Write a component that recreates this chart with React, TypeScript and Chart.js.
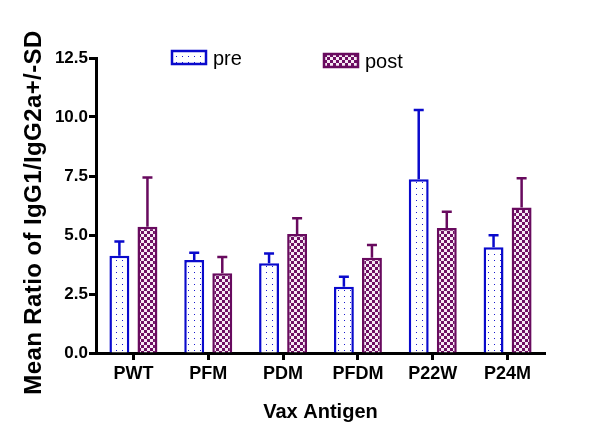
import React, { useEffect, useRef } from "react";
import { Chart, registerables } from "chart.js";

Chart.register(...registerables);

const categories = ["PWT", "PFM", "PDM", "PFDM", "P22W", "P24M"];
const preMean = [4.12, 3.94, 3.8, 2.81, 7.36, 4.48];
const preSD = [0.6, 0.31, 0.42, 0.42, 2.94, 0.51];
const postMean = [5.35, 3.38, 5.04, 4.04, 5.3, 6.16];
const postSD = [2.09, 0.69, 0.67, 0.54, 0.69, 1.24];
const seriesNames = ["pre", "post"];
const yTicks = [0, 2.5, 5, 7.5, 10, 12.5];
const yTitle = "Mean Ratio of IgG1/IgG2a+/-SD";
const xTitle = "Vax Antigen";

const BLUE = "#0a0acc";
const PURPLE = "#680a5e";
const FONT = "'Liberation Sans', Arial, sans-serif";

function makeDots(): CanvasPattern | string {
  const c = document.createElement("canvas");
  c.width = 6;
  c.height = 6;
  const g = c.getContext("2d");
  if (!g) return "#fff";
  g.fillStyle = "#ffffff";
  g.fillRect(0, 0, 6, 6);
  g.fillStyle = "#1a1ad0";
  g.fillRect(2, 2, 1, 1);
  return g.createPattern(c, "repeat") || "#fff";
}

function makeChecker(): CanvasPattern | string {
  const c = document.createElement("canvas");
  c.width = 6;
  c.height = 6;
  const g = c.getContext("2d");
  if (!g) return PURPLE;
  g.fillStyle = "#f6eaf4";
  g.fillRect(0, 0, 6, 6);
  g.fillStyle = "#6e0f63";
  g.fillRect(0, 0, 3, 3);
  g.fillRect(3, 3, 3, 3);
  return g.createPattern(c, "repeat") || PURPLE;
}

export default function App() {
  const ref = useRef<HTMLCanvasElement | null>(null);

  useEffect(() => {
    document.body.style.margin = "0";
    const canvas = ref.current;
    if (!canvas) return;
    const dots = makeDots();
    const checker = makeChecker();
    const sds = [preSD, postSD];
    const colors = [BLUE, PURPLE];

    const errorBars = {
      id: "errorBars",
      afterDatasetsDraw(chart: any) {
        const ctx = chart.ctx;
        const yScale = chart.scales.y;
        chart.data.datasets.forEach((ds: any, di: number) => {
          const meta = chart.getDatasetMeta(di);
          meta.data.forEach((el: any, i: number) => {
            const v = ds.data[i] + sds[di][i];
            const yTop = yScale.getPixelForValue(v);
            ctx.save();
            ctx.strokeStyle = colors[di];
            ctx.lineWidth = 2.5;
            ctx.beginPath();
            ctx.moveTo(el.x, el.y);
            ctx.lineTo(el.x, yTop);
            ctx.moveTo(el.x - 5, yTop);
            ctx.lineTo(el.x + 5, yTop);
            ctx.stroke();
            ctx.restore();
          });
        });
      },
    };

    const customLegend = {
      id: "customLegend",
      afterDraw(chart: any) {
        const ctx = chart.ctx;
        const a = chart.chartArea;
        const items = [
          { x: a.left + 76, y: a.top - 7, fill: dots, stroke: BLUE, text: seriesNames[0] },
          { x: a.left + 228, y: a.top - 4, fill: checker, stroke: PURPLE, text: seriesNames[1] },
        ];
        ctx.save();
        items.forEach((it) => {
          ctx.fillStyle = it.fill as any;
          ctx.fillRect(it.x, it.y, 34, 13);
          ctx.strokeStyle = it.stroke;
          ctx.lineWidth = 2.5;
          ctx.strokeRect(it.x, it.y, 34, 13);
          ctx.fillStyle = "#000";
          ctx.font = `20px ${FONT}`;
          ctx.textBaseline = "middle";
          ctx.textAlign = "left";
          ctx.fillText(it.text, it.x + 41, it.y + 8);
        });
        ctx.restore();
      },
    };

    const yTitlePlugin = {
      id: "yTitlePlugin",
      afterDraw(chart: any) {
        const ctx = chart.ctx;
        const a = chart.chartArea;
        ctx.save();
        ctx.translate(34, (a.top + a.bottom) / 2 + 7);
        ctx.rotate(-Math.PI / 2);
        ctx.fillStyle = "#000";
        ctx.font = `bold 24px ${FONT}`;
        ctx.textAlign = "center";
        ctx.textBaseline = "middle";
        if ("letterSpacing" in ctx) (ctx as any).letterSpacing = "0.4px";
        ctx.fillText(yTitle, 0, 0);
        ctx.restore();
      },
    };

    const chart = new Chart(canvas, {
      type: "bar",
      data: {
        labels: categories,
        datasets: [
          {
            label: seriesNames[0],
            data: preMean,
            backgroundColor: dots as any,
            borderColor: BLUE,
            borderWidth: 2.5,
            borderSkipped: "start",
            categoryPercentage: 0.75,
            barPercentage: 0.71,
          },
          {
            label: seriesNames[1],
            data: postMean,
            backgroundColor: checker as any,
            borderColor: PURPLE,
            borderWidth: 2.5,
            borderSkipped: "start",
            categoryPercentage: 0.75,
            barPercentage: 0.71,
          },
        ],
      },
      options: {
        animation: false,
        responsive: false,
        maintainAspectRatio: false,
        layout: { padding: { top: 58, right: 55, left: 0, bottom: 0 } },
        plugins: {
          legend: { display: false },
          tooltip: { enabled: false },
        },
        scales: {
          x: {
            offset: true,
            grid: {
              display: true,
              offset: false,
              drawOnChartArea: false,
              drawTicks: true,
              tickLength: 7,
              tickWidth: 3,
              tickColor: "#000",
            },
            border: { display: true, color: "#000", width: 3 },
            ticks: {
              color: "#000",
              padding: 3,
              font: { family: FONT, size: 18, weight: "bold" },
            },
            title: {
              display: true,
              text: xTitle,
              color: "#000",
              font: { family: FONT, size: 20, weight: "bold" },
              padding: { top: 0, bottom: 24 },
            },
            afterFit: (s: any) => {
              s.height = 95;
            },
          },
          y: {
            min: 0,
            max: 12.5,
            afterBuildTicks: (s: any) => {
              s.ticks = yTicks.map((v) => ({ value: v }));
            },
            grid: {
              display: true,
              drawOnChartArea: false,
              drawTicks: true,
              tickLength: 7,
              tickWidth: 3,
              tickColor: "#000",
            },
            border: { display: true, color: "#000", width: 3 },
            ticks: {
              color: "#000",
              padding: 1,
              font: { family: FONT, size: 17, weight: "bold" },
              callback: (v: any) => Number(v).toFixed(1),
            },
            afterFit: (s: any) => {
              s.width = 96;
            },
          },
        },
      },
      plugins: [errorBars, customLegend, yTitlePlugin],
    });
    return () => chart.destroy();
  }, []);

  return (
    <div style={{ position: "absolute", left: 0, top: 0, width: 600, height: 448 }}>
      <canvas ref={ref} width={600} height={448} style={{ width: 600, height: 448 }} />
    </div>
  );
}
